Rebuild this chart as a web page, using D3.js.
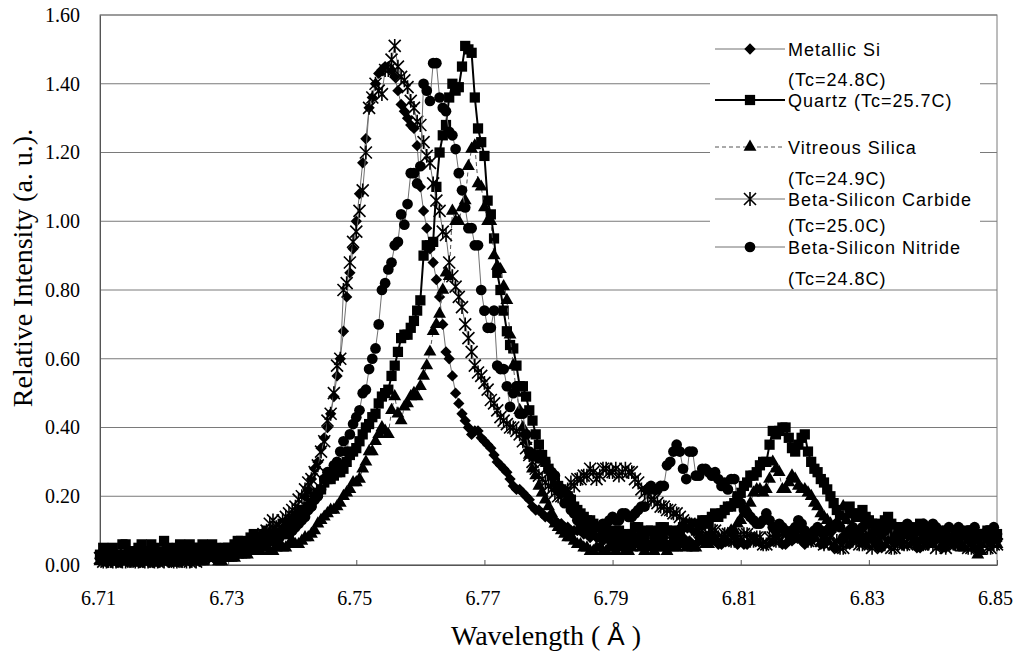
<!DOCTYPE html>
<html>
<head>
<meta charset="utf-8">
<script src="https://cdn.jsdelivr.net/npm/d3@7"></script>
<style>
  body { margin: 0; background: #fff; }
  svg { display: block; }
</style>
</head>
<body>
<div id="chart"></div>
<script>
// wavelength grid (Angstrom), one point every 0.0005
const wavelength = [
  6.7100,6.7105,6.7110,6.7115,6.7120,6.7125,6.7130,6.7135,6.7140,6.7145,6.7150,6.7155,6.7160,6.7165,6.7170,6.7175,6.7180,6.7185,6.7190,6.7195,
  6.7200,6.7205,6.7210,6.7215,6.7220,6.7225,6.7230,6.7235,6.7240,6.7245,6.7250,6.7255,6.7260,6.7265,6.7270,6.7275,6.7280,6.7285,6.7290,6.7295,
  6.7300,6.7305,6.7310,6.7315,6.7320,6.7325,6.7330,6.7335,6.7340,6.7345,6.7350,6.7355,6.7360,6.7365,6.7370,6.7375,6.7380,6.7385,6.7390,6.7395,
  6.7400,6.7405,6.7410,6.7415,6.7420,6.7425,6.7430,6.7435,6.7440,6.7445,6.7450,6.7455,6.7460,6.7465,6.7470,6.7475,6.7480,6.7485,6.7490,6.7495,
  6.7500,6.7505,6.7510,6.7515,6.7520,6.7525,6.7530,6.7535,6.7540,6.7545,6.7550,6.7555,6.7560,6.7565,6.7570,6.7575,6.7580,6.7585,6.7590,6.7595,
  6.7600,6.7605,6.7610,6.7615,6.7620,6.7625,6.7630,6.7635,6.7640,6.7645,6.7650,6.7655,6.7660,6.7665,6.7670,6.7675,6.7680,6.7685,6.7690,6.7695,
  6.7700,6.7705,6.7710,6.7715,6.7720,6.7725,6.7730,6.7735,6.7740,6.7745,6.7750,6.7755,6.7760,6.7765,6.7770,6.7775,6.7780,6.7785,6.7790,6.7795,
  6.7800,6.7805,6.7810,6.7815,6.7820,6.7825,6.7830,6.7835,6.7840,6.7845,6.7850,6.7855,6.7860,6.7865,6.7870,6.7875,6.7880,6.7885,6.7890,6.7895,
  6.7900,6.7905,6.7910,6.7915,6.7920,6.7925,6.7930,6.7935,6.7940,6.7945,6.7950,6.7955,6.7960,6.7965,6.7970,6.7975,6.7980,6.7985,6.7990,6.7995,
  6.8000,6.8005,6.8010,6.8015,6.8020,6.8025,6.8030,6.8035,6.8040,6.8045,6.8050,6.8055,6.8060,6.8065,6.8070,6.8075,6.8080,6.8085,6.8090,6.8095,
  6.8100,6.8105,6.8110,6.8115,6.8120,6.8125,6.8130,6.8135,6.8140,6.8145,6.8150,6.8155,6.8160,6.8165,6.8170,6.8175,6.8180,6.8185,6.8190,6.8195,
  6.8200,6.8205,6.8210,6.8215,6.8220,6.8225,6.8230,6.8235,6.8240,6.8245,6.8250,6.8255,6.8260,6.8265,6.8270,6.8275,6.8280,6.8285,6.8290,6.8295,
  6.8300,6.8305,6.8310,6.8315,6.8320,6.8325,6.8330,6.8335,6.8340,6.8345,6.8350,6.8355,6.8360,6.8365,6.8370,6.8375,6.8380,6.8385,6.8390,6.8395,
  6.8400,6.8405,6.8410,6.8415,6.8420,6.8425,6.8430,6.8435,6.8440,6.8445,6.8450,6.8455,6.8460,6.8465,6.8470,6.8475,6.8480,6.8485,6.8490,6.8495,
  6.8500
];

const metallicSi = [
  0.02,0.01,0.01,0.02,0.02,0.01,0.01,0.02,0.02,0.01,0.01,0.02,0.02,0.01,0.02,0.01,0.01,0.02,0.02,0.01,
  0.02,0.01,0.01,0.02,0.02,0.01,0.02,0.02,0.01,0.02,0.02,0.01,0.02,0.02,0.02,0.03,0.03,0.02,0.03,0.03,
  0.03,0.04,0.04,0.03,0.04,0.05,0.05,0.06,0.06,0.06,0.06,0.07,0.07,0.08,0.08,0.09,0.09,0.09,0.10,0.11,
  0.12,0.13,0.14,0.16,0.20,0.22,0.25,0.28,0.30,0.34,0.37,0.40,0.44,0.49,0.55,0.60,0.68,0.78,0.85,0.92,
  1.00,1.08,1.17,1.24,1.33,1.36,1.40,1.43,1.44,1.45,1.45,1.44,1.42,1.38,1.34,1.32,1.30,1.28,1.27,1.22,
  1.10,1.03,0.98,0.92,0.88,0.83,0.78,0.70,0.62,0.60,0.55,0.50,0.47,0.44,0.42,0.40,0.38,0.39,0.39,0.37,
  0.36,0.35,0.34,0.32,0.30,0.29,0.28,0.27,0.25,0.23,0.22,0.22,0.21,0.20,0.19,0.17,0.16,0.16,0.15,0.14,
  0.14,0.13,0.13,0.12,0.12,0.11,0.11,0.10,0.10,0.10,0.10,0.09,0.09,0.08,0.09,0.08,0.08,0.07,0.08,0.07,
  0.07,0.06,0.08,0.07,0.06,0.07,0.07,0.08,0.08,0.06,0.07,0.06,0.06,0.07,0.07,0.08,0.08,0.06,0.06,0.07,
  0.07,0.08,0.08,0.06,0.07,0.06,0.06,0.08,0.08,0.07,0.07,0.09,0.09,0.06,0.06,0.07,0.07,0.08,0.08,0.06,
  0.07,0.06,0.06,0.08,0.08,0.07,0.07,0.06,0.06,0.07,0.07,0.08,0.08,0.06,0.06,0.07,0.07,0.08,0.08,0.07,
  0.06,0.07,0.07,0.08,0.08,0.06,0.06,0.07,0.07,0.05,0.05,0.07,0.07,0.06,0.06,0.08,0.08,0.07,0.07,0.06,
  0.06,0.07,0.07,0.05,0.05,0.07,0.07,0.06,0.06,0.08,0.08,0.06,0.06,0.07,0.07,0.05,0.05,0.06,0.06,0.07,
  0.07,0.06,0.06,0.05,0.05,0.07,0.07,0.06,0.06,0.08,0.08,0.06,0.06,0.05,0.05,0.07,0.07,0.06,0.06,0.07,
  0.07
];

const quartz = [
  0.03,0.05,0.02,0.04,0.05,0.03,0.03,0.06,0.06,0.04,0.02,0.04,0.05,0.06,0.03,0.04,0.06,0.05,0.04,0.03,
  0.07,0.05,0.03,0.04,0.05,0.06,0.04,0.03,0.06,0.05,0.03,0.05,0.06,0.04,0.04,0.06,0.05,0.03,0.04,0.05,
  0.05,0.04,0.06,0.07,0.07,0.06,0.06,0.08,0.09,0.08,0.08,0.09,0.10,0.09,0.09,0.10,0.11,0.12,0.12,0.11,
  0.13,0.14,0.15,0.16,0.16,0.17,0.18,0.20,0.21,0.22,0.24,0.25,0.25,0.26,0.27,0.27,0.28,0.30,0.32,0.33,
  0.34,0.36,0.38,0.40,0.41,0.43,0.44,0.47,0.49,0.50,0.51,0.55,0.58,0.62,0.66,0.67,0.67,0.69,0.71,0.74,
  0.77,0.90,0.93,0.93,0.94,1.10,1.20,1.25,1.28,1.36,1.40,1.38,1.39,1.45,1.51,1.50,1.49,1.36,1.27,1.23,
  1.19,1.06,1.02,0.95,0.85,0.80,0.74,0.68,0.64,0.63,0.58,0.52,0.52,0.49,0.45,0.42,0.38,0.35,0.32,0.30,
  0.28,0.26,0.24,0.23,0.22,0.21,0.20,0.19,0.17,0.16,0.15,0.14,0.13,0.13,0.12,0.11,0.11,0.10,0.10,0.09,
  0.09,0.10,0.10,0.08,0.08,0.09,0.09,0.11,0.11,0.09,0.08,0.10,0.10,0.09,0.09,0.11,0.11,0.10,0.10,0.09,
  0.09,0.10,0.11,0.12,0.12,0.11,0.10,0.12,0.13,0.13,0.12,0.14,0.15,0.14,0.15,0.16,0.17,0.17,0.18,0.20,
  0.21,0.23,0.24,0.26,0.26,0.27,0.29,0.30,0.30,0.35,0.39,0.38,0.39,0.40,0.40,0.37,0.34,0.33,0.35,0.37,
  0.38,0.33,0.30,0.28,0.27,0.25,0.24,0.22,0.20,0.18,0.16,0.15,0.15,0.16,0.17,0.15,0.14,0.15,0.16,0.14,
  0.13,0.12,0.12,0.11,0.11,0.13,0.14,0.12,0.10,0.11,0.11,0.10,0.09,0.10,0.10,0.11,0.12,0.10,0.09,0.09,
  0.10,0.09,0.08,0.09,0.09,0.10,0.10,0.09,0.08,0.09,0.09,0.10,0.10,0.09,0.08,0.09,0.09,0.10,0.10,0.09,
  0.09
];

const vitreousSilica = [
  0.01,0.02,0.02,0.01,0.01,0.01,0.02,0.01,0.01,0.02,0.01,0.01,0.01,0.02,0.02,0.01,0.01,0.02,0.01,0.01,
  0.02,0.01,0.01,0.02,0.01,0.01,0.02,0.01,0.01,0.02,0.02,0.01,0.01,0.02,0.02,0.02,0.02,0.01,0.01,0.02,
  0.02,0.02,0.02,0.03,0.03,0.03,0.03,0.04,0.04,0.04,0.04,0.05,0.05,0.04,0.04,0.05,0.06,0.05,0.05,0.06,
  0.07,0.06,0.06,0.07,0.08,0.08,0.09,0.10,0.12,0.13,0.14,0.15,0.16,0.16,0.17,0.18,0.20,0.21,0.22,0.24,
  0.24,0.25,0.28,0.30,0.33,0.33,0.36,0.38,0.40,0.39,0.38,0.45,0.49,0.44,0.42,0.46,0.47,0.49,0.50,0.49,
  0.52,0.55,0.58,0.62,0.68,0.70,0.73,0.80,0.85,0.84,1.03,1.00,1.00,1.04,1.06,1.16,1.21,1.22,1.11,1.10,
  1.04,1.00,1.00,0.90,0.87,0.86,0.81,0.77,0.67,0.58,0.50,0.45,0.40,0.36,0.32,0.28,0.26,0.23,0.21,0.19,
  0.17,0.15,0.12,0.11,0.10,0.09,0.08,0.08,0.07,0.06,0.06,0.05,0.05,0.04,0.04,0.05,0.05,0.04,0.04,0.05,
  0.05,0.04,0.06,0.05,0.04,0.04,0.05,0.06,0.07,0.05,0.04,0.05,0.06,0.04,0.05,0.06,0.05,0.04,0.06,0.05,
  0.05,0.06,0.07,0.05,0.06,0.05,0.05,0.07,0.07,0.06,0.06,0.07,0.08,0.08,0.07,0.08,0.09,0.10,0.10,0.12,
  0.13,0.15,0.16,0.18,0.21,0.22,0.22,0.21,0.22,0.25,0.30,0.28,0.27,0.22,0.22,0.24,0.26,0.25,0.23,0.22,
  0.22,0.21,0.20,0.18,0.17,0.15,0.14,0.13,0.12,0.11,0.11,0.14,0.17,0.13,0.10,0.09,0.09,0.08,0.08,0.08,
  0.09,0.08,0.07,0.07,0.08,0.07,0.06,0.07,0.08,0.07,0.07,0.06,0.06,0.07,0.08,0.07,0.07,0.06,0.06,0.07,
  0.07,0.06,0.06,0.07,0.08,0.07,0.07,0.06,0.06,0.05,0.05,0.06,0.07,0.05,0.03,0.04,0.06,0.07,0.07,0.06,
  0.06
];

const siliconCarbide = [
  0.02,0.01,0.01,0.02,0.01,0.01,0.02,0.01,0.01,0.02,0.02,0.01,0.01,0.02,0.01,0.01,0.02,0.01,0.01,0.02,
  0.01,0.02,0.02,0.01,0.01,0.02,0.02,0.01,0.01,0.02,0.01,0.02,0.02,0.03,0.02,0.03,0.03,0.03,0.03,0.04,
  0.04,0.04,0.04,0.05,0.05,0.06,0.06,0.06,0.07,0.07,0.08,0.09,0.10,0.12,0.13,0.11,0.11,0.13,0.14,0.15,
  0.16,0.17,0.19,0.20,0.22,0.24,0.25,0.27,0.29,0.33,0.36,0.42,0.44,0.50,0.58,0.60,0.80,0.82,0.88,0.94,
  0.97,1.03,1.09,1.20,1.33,1.36,1.40,1.38,1.37,1.44,1.44,1.47,1.51,1.45,1.42,1.41,1.39,1.35,1.33,1.29,
  1.28,1.23,1.19,1.17,1.11,1.06,1.03,0.97,0.96,0.88,0.84,0.81,0.78,0.75,0.70,0.66,0.62,0.58,0.56,0.55,
  0.53,0.51,0.48,0.47,0.45,0.43,0.42,0.41,0.40,0.40,0.39,0.38,0.36,0.34,0.32,0.30,0.28,0.26,0.25,0.24,
  0.23,0.22,0.21,0.20,0.20,0.21,0.22,0.24,0.23,0.25,0.25,0.26,0.26,0.28,0.27,0.25,0.26,0.28,0.28,0.27,
  0.27,0.28,0.26,0.27,0.28,0.27,0.27,0.25,0.24,0.22,0.21,0.20,0.19,0.19,0.18,0.17,0.17,0.16,0.16,0.15,
  0.15,0.14,0.13,0.12,0.12,0.11,0.11,0.10,0.10,0.09,0.09,0.10,0.10,0.08,0.08,0.09,0.09,0.07,0.07,0.08,
  0.08,0.09,0.09,0.07,0.07,0.08,0.08,0.06,0.06,0.08,0.08,0.07,0.07,0.09,0.09,0.08,0.08,0.09,0.10,0.09,
  0.08,0.07,0.07,0.08,0.09,0.07,0.06,0.07,0.08,0.06,0.07,0.05,0.05,0.07,0.08,0.07,0.07,0.06,0.06,0.07,
  0.07,0.05,0.06,0.07,0.08,0.06,0.07,0.05,0.05,0.06,0.07,0.06,0.06,0.08,0.08,0.07,0.06,0.06,0.07,0.07,
  0.06,0.05,0.07,0.06,0.05,0.06,0.07,0.06,0.06,0.07,0.07,0.05,0.05,0.06,0.06,0.07,0.07,0.05,0.05,0.06,
  0.06
];

const siliconNitride = [
  0.02,0.03,0.01,0.02,0.03,0.02,0.01,0.02,0.02,0.03,0.02,0.01,0.01,0.03,0.03,0.02,0.02,0.01,0.01,0.02,
  0.03,0.02,0.02,0.01,0.01,0.02,0.02,0.03,0.03,0.02,0.02,0.03,0.02,0.03,0.03,0.03,0.03,0.04,0.03,0.03,
  0.04,0.04,0.04,0.05,0.05,0.05,0.05,0.06,0.06,0.06,0.06,0.07,0.07,0.07,0.07,0.08,0.08,0.09,0.09,0.09,
  0.10,0.11,0.12,0.13,0.14,0.16,0.17,0.19,0.20,0.22,0.25,0.27,0.27,0.29,0.30,0.33,0.36,0.33,0.38,0.41,
  0.43,0.45,0.50,0.51,0.57,0.60,0.63,0.70,0.80,0.82,0.86,0.88,0.93,0.94,1.02,0.99,1.05,1.14,1.14,1.11,
  1.16,1.40,1.38,1.35,1.46,1.46,1.36,1.33,1.32,1.26,1.25,1.21,1.14,1.09,1.04,0.98,0.98,0.93,0.93,0.80,
  0.74,0.69,0.69,0.74,0.58,0.57,0.57,0.52,0.46,0.50,0.52,0.44,0.44,0.38,0.33,0.32,0.32,0.31,0.31,0.30,
  0.28,0.27,0.26,0.23,0.21,0.18,0.18,0.16,0.15,0.13,0.12,0.12,0.11,0.11,0.12,0.11,0.11,0.12,0.12,0.13,
  0.14,0.13,0.13,0.15,0.15,0.14,0.14,0.15,0.16,0.17,0.17,0.22,0.23,0.22,0.22,0.23,0.23,0.29,0.30,0.33,
  0.35,0.33,0.28,0.25,0.33,0.33,0.26,0.26,0.28,0.28,0.27,0.26,0.27,0.25,0.23,0.24,0.22,0.25,0.25,0.20,
  0.18,0.16,0.15,0.14,0.13,0.12,0.12,0.13,0.15,0.13,0.11,0.10,0.12,0.11,0.10,0.09,0.10,0.11,0.13,0.12,
  0.10,0.09,0.08,0.10,0.11,0.10,0.09,0.10,0.10,0.11,0.12,0.11,0.08,0.09,0.10,0.11,0.09,0.10,0.11,0.12,
  0.08,0.09,0.10,0.11,0.09,0.10,0.11,0.12,0.08,0.09,0.10,0.11,0.12,0.11,0.09,0.10,0.11,0.12,0.10,0.11,
  0.12,0.11,0.09,0.10,0.10,0.11,0.08,0.09,0.11,0.10,0.09,0.10,0.10,0.11,0.08,0.09,0.09,0.10,0.10,0.11,
  0.09
];

const seriesNames = [
  ["Metallic Si", "(Tc=24.8C)"],
  ["Quartz (Tc=25.7C)"],
  ["Vitreous Silica", "(Tc=24.9C)"],
  ["Beta-Silicon Carbide", "(Tc=25.0C)"],
  ["Beta-Silicon Nitride", "(Tc=24.8C)"]
];

const xTicks = [6.71, 6.73, 6.75, 6.77, 6.79, 6.81, 6.83, 6.85];
const yTicks = [0.00, 0.20, 0.40, 0.60, 0.80, 1.00, 1.20, 1.40, 1.60];

// star marker: an X with a vertical bar
const symbolStar = {
  draw(ctx, size) {
    const r = Math.sqrt(size) / 2;
    ctx.moveTo(-r, -r); ctx.lineTo(r, r);
    ctx.moveTo(-r, r); ctx.lineTo(r, -r);
    ctx.moveTo(0, -r * 1.15); ctx.lineTo(0, r * 1.15);
  }
};

const series = [
  { values: metallicSi, type: d3.symbolSquare, size: 64, rotate: 45, color: "#707070", width: 1, dash: null, stroke: false },
  { values: quartz, type: d3.symbolSquare, size: 105, rotate: 0, color: "#000", width: 2, dash: null, stroke: false },
  { values: vitreousSilica, type: d3.symbolTriangle, size: 72, rotate: 0, color: "#555", width: 1, dash: "4,3", stroke: false },
  { values: siliconCarbide, type: symbolStar, size: 144, rotate: 0, color: "#707070", width: 1, dash: null, stroke: true },
  { values: siliconNitride, type: d3.symbolCircle, size: 90, rotate: 0, color: "#707070", width: 1, dash: null, stroke: false }
];

const serifFont = "'Liberation Serif', 'Times New Roman', serif";
const sansFont = "'Liberation Sans', Arial, sans-serif";

const width = 1014, height = 657;
const plotLeft = 100, plotRight = 997, plotTop = 15, plotBottom = 565;

const svg = d3.select("#chart")
  .append("svg")
  .attr("width", width)
  .attr("height", height);

const x = d3.scaleLinear().domain([6.71, 6.85]).range([plotLeft, plotRight]);
const y = d3.scaleLinear().domain([0, 1.6]).range([plotBottom, plotTop]);

// gridlines
svg.append("g")
  .selectAll("line")
  .data(yTicks)
  .enter()
  .append("line")
  .attr("x1", plotLeft)
  .attr("x2", plotRight)
  .attr("y1", d => y(d))
  .attr("y2", d => y(d))
  .attr("stroke", "#7a7a7a")
  .attr("stroke-width", 1);

// plot border
svg.append("rect")
  .attr("x", plotLeft)
  .attr("y", plotTop)
  .attr("width", plotRight - plotLeft)
  .attr("height", plotBottom - plotTop)
  .attr("fill", "none")
  .attr("stroke", "#7a7a7a");

// axes
const xAxis = svg.append("g")
  .attr("transform", `translate(0,${plotBottom})`)
  .call(d3.axisBottom(x).tickValues(xTicks).tickFormat(d3.format(".2f"))
    .tickSizeInner(-5).tickSizeOuter(0).tickPadding(26))
  .attr("font-family", serifFont)
  .attr("font-size", 20);
xAxis.select(".domain").attr("stroke", "#555");
xAxis.selectAll(".tick line").attr("stroke", "#555");
xAxis.selectAll("text")
  .attr("dx", -2)
  .style("font-family", serifFont)
  .attr("fill", "#000");

const yAxis = svg.append("g")
  .attr("transform", `translate(${plotLeft},0)`)
  .call(d3.axisLeft(y).tickValues(yTicks).tickFormat(d3.format(".2f"))
    .tickSize(0).tickPadding(20))
  .attr("font-family", serifFont)
  .attr("font-size", 20);
yAxis.select(".domain").attr("stroke", "#555");
yAxis.selectAll("text")
  .style("font-family", serifFont)
  .attr("fill", "#000");

// series: line then markers
const line = d3.line()
  .x(d => x(d[0]))
  .y(d => y(d[1]));

series.forEach(s => {
  const pts = wavelength.map((w, i) => [w, s.values[i]]);
  const g = svg.append("g");
  g.append("path")
    .datum(pts)
    .attr("d", line)
    .attr("fill", "none")
    .attr("stroke", s.color)
    .attr("stroke-width", s.width)
    .attr("stroke-dasharray", s.dash);
  g.selectAll("path.pt")
    .data(pts)
    .enter()
    .append("path")
    .attr("class", "pt")
    .attr("d", d3.symbol().type(s.type).size(s.size))
    .attr("transform", d => `translate(${x(d[0])},${y(d[1])}) rotate(${s.rotate})`)
    .attr("fill", s.stroke ? "none" : "#000")
    .attr("stroke", s.stroke ? "#000" : "none")
    .attr("stroke-width", 1.6);
});

// legend
const legend = svg.append("g");
legend.append("rect")
  .attr("x", 710)
  .attr("y", 24)
  .attr("width", 270)
  .attr("height", 265)
  .attr("fill", "#fff");

// baseline of each legend text line
const legendLines = [[56, 86], [107], [154, 185], [206, 232], [254, 285]];

series.forEach((s, i) => {
  const cy = legendLines[i][0] - 7;
  legend.append("line")
    .attr("x1", 715).attr("x2", 785)
    .attr("y1", cy).attr("y2", cy)
    .attr("stroke", s.color)
    .attr("stroke-width", s.width)
    .attr("stroke-dasharray", s.dash);
  legend.append("path")
    .attr("d", d3.symbol().type(s.type).size(s.size))
    .attr("transform", `translate(750,${cy}) rotate(${s.rotate})`)
    .attr("fill", s.stroke ? "none" : "#000")
    .attr("stroke", s.stroke ? "#000" : "none")
    .attr("stroke-width", 1.6);
  seriesNames[i].forEach((t, j) => {
    legend.append("text")
      .attr("x", 788)
      .attr("y", legendLines[i][j])
      .style("font-family", sansFont)
      .style("font-size", "18px")
      .style("letter-spacing", "1px")
      .attr("fill", "#000")
      .text(t);
  });
});

// axis titles
const xTitle = svg.append("text")
  .attr("x", 546)
  .attr("y", 645)
  .attr("text-anchor", "middle")
  .style("font-family", serifFont)
  .style("font-size", "28px")
  .attr("fill", "#000");
xTitle.append("tspan").text("Wavelength ( ");
xTitle.append("tspan")
  .style("font-family", sansFont)
  .style("font-size", "26px")
  .text("Å");
xTitle.append("tspan").text(" )");

svg.append("text")
  .attr("transform", "translate(32,268) rotate(-90)")
  .attr("text-anchor", "middle")
  .style("font-family", serifFont)
  .style("font-size", "28px")
  .attr("fill", "#000")
  .text("Relative Intensity (a. u.).");
</script>
</body>
</html>
